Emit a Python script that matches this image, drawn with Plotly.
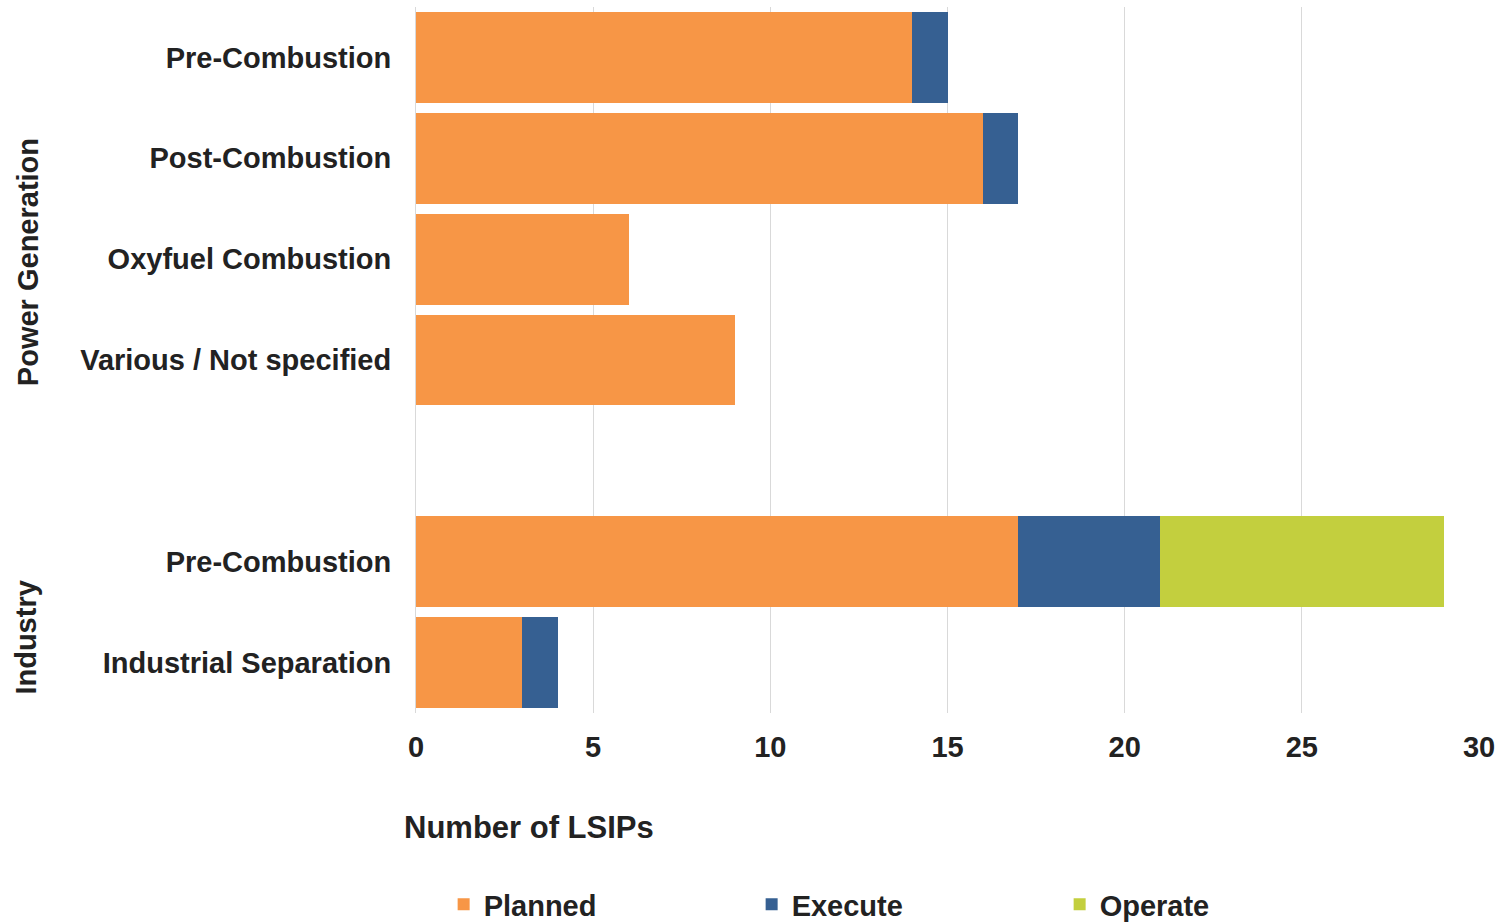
import plotly.graph_objects as go

categories = ["Pre-Combustion", "Post-Combustion", "Oxyfuel Combustion", "Various / Not specified",
              "", "Pre-Combustion", "Industrial Separation"]
planned = [14, 16, 6, 9, None, 17, 3]
execute = [1, 1, 0, 0, None, 4, 1]
operate = [0, 0, 0, 0, None, 8, 0]
groups = ["Power Generation", "Industry"]
x_ticks = [0, 5, 10, 15, 20, 25, 30]

positions = list(range(len(categories)))
FONT = "Liberation Sans, Arial, sans-serif"
TXT = "#222222"

fig = go.Figure()
for name, vals, col in [("Planned", planned, "#F79646"),
                        ("Execute", execute, "#366092"),
                        ("Operate", operate, "#C3CF3E")]:
    fig.add_trace(go.Bar(y=positions, x=vals, name=name, orientation="h",
                         marker=dict(color=col, line=dict(width=0)), width=0.9))

fig.update_layout(
    barmode="stack",
    width=1505, height=922,
    margin=dict(l=416, r=26, t=7, b=209, autoexpand=False),
    paper_bgcolor="white", plot_bgcolor="white",
    font=dict(family=FONT, size=29, color=TXT),
    showlegend=True,
    legend=dict(orientation="h", x=0.026, xanchor="left", y=-0.235, yanchor="top",
                entrywidth=263, entrywidthmode="pixels", itemwidth=30,
                font=dict(size=29, family=FONT, color=TXT, weight="bold"),
                traceorder="normal"),
    bargap=0.1,
)
fig.update_xaxes(range=[0, 30], tickvals=x_ticks, showgrid=True, gridcolor="#D9D9D9",
                 gridwidth=1, zeroline=False, showline=False, ticks="",
                 tickfont=dict(size=29, family=FONT, color=TXT, weight="bold"),
                 ticklabelstandoff=14, fixedrange=True)
fig.update_yaxes(range=[6.5, -0.5], tickvals=positions, ticktext=categories, showgrid=False,
                 zeroline=False, showline=True, linecolor="#D9D9D9", linewidth=1, ticks="",
                 tickfont=dict(size=29, family=FONT, color=TXT, weight="bold"),
                 ticklabelstandoff=18, fixedrange=True)

fig.add_annotation(text="Number of LSIPs", xref="paper", yref="paper",
                   x=(402 - 416) / 1063, y=(713.5 - 828) / 707, xanchor="left", yanchor="middle",
                   showarrow=False, font=dict(size=31, family=FONT, color=TXT, weight="bold"))
fig.add_annotation(text=groups[0], xref="paper", yref="paper", textangle=-90,
                   x=(28 - 416) / 1063, y=(713.5 - 262) / 707, xanchor="center", yanchor="middle",
                   showarrow=False, font=dict(size=29, family=FONT, color=TXT, weight="bold"))
fig.add_annotation(text=groups[1], xref="paper", yref="paper", textangle=-90,
                   x=(26 - 416) / 1063, y=(713.5 - 638) / 707, xanchor="center", yanchor="middle",
                   showarrow=False, font=dict(size=29, family=FONT, color=TXT, weight="bold"))

fig.write_html("out.html")
